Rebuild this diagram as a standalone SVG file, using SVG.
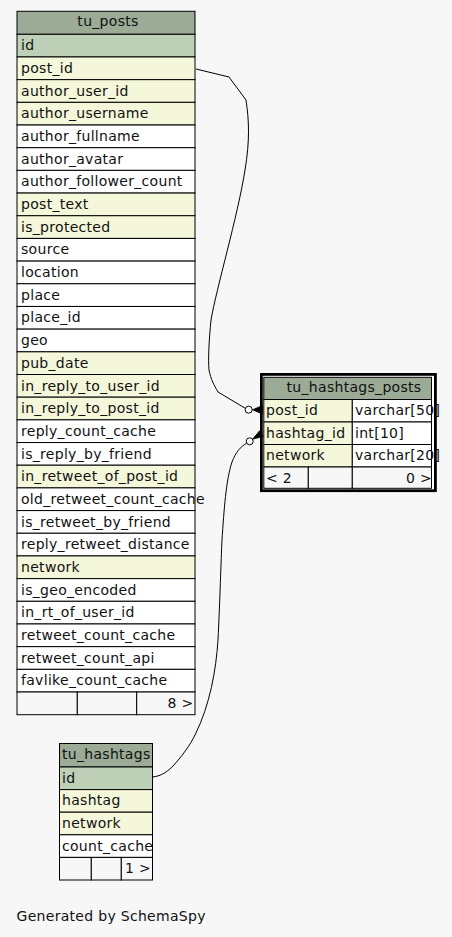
<svg xmlns="http://www.w3.org/2000/svg" width="452" height="937" viewBox="0 0 452 937">
  <style>
    .hdr { fill: #9bab96; stroke: #000; stroke-width: 1; }
    .pk { fill: #bed1b8; stroke: #000; stroke-width: 1; }
    .idx { fill: #f4f7da; stroke: #000; stroke-width: 1; }
    .plain { fill: #ffffff; stroke: #000; stroke-width: 1; }
    .foot { fill: #f7f7f7; stroke: #000; stroke-width: 1; }
    text { font-family: "DejaVu Sans", "Liberation Sans", sans-serif; font-size: 14px; letter-spacing: 0.3px; fill: #111; }
    .mid { text-anchor: middle; }
    .end { text-anchor: end; }
    .edge { fill: none; stroke: #000; stroke-width: 1; }
    .odot { fill: #ffffff; stroke: #000; stroke-width: 1; }
    .crow { fill: #000; stroke: #000; stroke-width: 0.8; }
  </style>

  <rect x="0" y="0" width="452" height="937" fill="#f7f7f7"/>

  <!-- tu_posts -->
  <g id="tu_posts">
    <rect class="hdr" x="17" y="11.3" width="178" height="23"/>
    <text class="mid" x="108" y="26.3">tu_posts</text>

    <rect class="pk" x="17" y="34.30" width="178" height="22.68"/><text x="21" y="50.30">id</text>
    <rect class="idx" x="17" y="56.98" width="178" height="22.68"/><text x="21" y="72.98">post_id</text>
    <rect class="idx" x="17" y="79.66" width="178" height="22.68"/><text x="21" y="95.66">author_user_id</text>
    <rect class="idx" x="17" y="102.34" width="178" height="22.68"/><text x="21" y="118.34">author_username</text>
    <rect class="plain" x="17" y="125.02" width="178" height="22.68"/><text x="21" y="141.02">author_fullname</text>
    <rect class="plain" x="17" y="147.70" width="178" height="22.68"/><text x="21" y="163.70">author_avatar</text>
    <rect class="plain" x="17" y="170.38" width="178" height="22.68"/><text x="21" y="186.38">author_follower_count</text>
    <rect class="idx" x="17" y="193.06" width="178" height="22.68"/><text x="21" y="209.06">post_text</text>
    <rect class="idx" x="17" y="215.74" width="178" height="22.68"/><text x="21" y="231.74">is_protected</text>
    <rect class="plain" x="17" y="238.42" width="178" height="22.68"/><text x="21" y="254.42">source</text>
    <rect class="plain" x="17" y="261.10" width="178" height="22.68"/><text x="21" y="277.10">location</text>
    <rect class="plain" x="17" y="283.78" width="178" height="22.68"/><text x="21" y="299.78">place</text>
    <rect class="plain" x="17" y="306.46" width="178" height="22.68"/><text x="21" y="322.46">place_id</text>
    <rect class="plain" x="17" y="329.14" width="178" height="22.68"/><text x="21" y="345.14">geo</text>
    <rect class="idx" x="17" y="351.82" width="178" height="22.68"/><text x="21" y="367.82">pub_date</text>
    <rect class="idx" x="17" y="374.50" width="178" height="22.68"/><text x="21" y="390.50">in_reply_to_user_id</text>
    <rect class="idx" x="17" y="397.18" width="178" height="22.68"/><text x="21" y="413.18">in_reply_to_post_id</text>
    <rect class="plain" x="17" y="419.86" width="178" height="22.68"/><text x="21" y="435.86">reply_count_cache</text>
    <rect class="plain" x="17" y="442.54" width="178" height="22.68"/><text x="21" y="458.54">is_reply_by_friend</text>
    <rect class="idx" x="17" y="465.22" width="178" height="22.68"/><text x="21" y="481.22">in_retweet_of_post_id</text>
    <rect class="plain" x="17" y="487.90" width="178" height="22.68"/><text x="21" y="503.90">old_retweet_count_cache</text>
    <rect class="plain" x="17" y="510.58" width="178" height="22.68"/><text x="21" y="526.58">is_retweet_by_friend</text>
    <rect class="plain" x="17" y="533.26" width="178" height="22.68"/><text x="21" y="549.26">reply_retweet_distance</text>
    <rect class="idx" x="17" y="555.94" width="178" height="22.68"/><text x="21" y="571.94">network</text>
    <rect class="plain" x="17" y="578.62" width="178" height="22.68"/><text x="21" y="594.62">is_geo_encoded</text>
    <rect class="plain" x="17" y="601.30" width="178" height="22.68"/><text x="21" y="617.30">in_rt_of_user_id</text>
    <rect class="plain" x="17" y="623.98" width="178" height="22.68"/><text x="21" y="639.98">retweet_count_cache</text>
    <rect class="plain" x="17" y="646.66" width="178" height="22.68"/><text x="21" y="662.66">retweet_count_api</text>
    <rect class="plain" x="17" y="669.34" width="178" height="22.68"/><text x="21" y="685.34">favlike_count_cache</text>

    <rect class="foot" x="17" y="692.02" width="60.3" height="22.68"/>
    <rect class="foot" x="77.3" y="692.02" width="59.4" height="22.68"/>
    <rect class="foot" x="136.7" y="692.02" width="58.3" height="22.68"/>
    <text class="end" x="193.5" y="708.02">8 &gt;</text>
  </g>

  <!-- tu_hashtags_posts (focused table, double frame) -->
  <g id="tu_hashtags_posts">
    <rect x="261.3" y="374.3" width="174" height="116.5" fill="#ffffff" stroke="#000" stroke-width="2.5"/>
    <rect class="hdr" x="263.8" y="377.3" width="167.7" height="22.2"/>
    <text class="mid" x="354" y="392">tu_hashtags_posts</text>

    <rect class="idx" x="263.8" y="399.5" width="88.5" height="22.5"/>
    <rect class="plain" x="352.3" y="399.5" width="79.2" height="22.5"/>
    <text x="266" y="415">post_id</text>
    <text x="355" y="415">varchar[50]</text>

    <rect class="idx" x="263.8" y="422" width="88.5" height="22.5"/>
    <rect class="plain" x="352.3" y="422" width="79.2" height="22.5"/>
    <text x="266" y="437.5">hashtag_id</text>
    <text x="355" y="437.5">int[10]</text>

    <rect class="idx" x="263.8" y="444.5" width="88.5" height="22.5"/>
    <rect class="plain" x="352.3" y="444.5" width="79.2" height="22.5"/>
    <text x="266" y="460">network</text>
    <text x="355" y="460">varchar[20]</text>

    <rect class="foot" x="263.8" y="467" width="44.5" height="21.3"/>
    <rect class="foot" x="308.3" y="467" width="44" height="21.3"/>
    <rect class="foot" x="352.3" y="467" width="79.2" height="21.3"/>
    <text x="266" y="482.5">&lt; 2</text>
    <text class="end" x="432" y="482.5">0 &gt;</text>

    <!-- outer frame redrawn over overflowing cell text -->
    <rect x="261.3" y="374.3" width="174" height="116.5" fill="none" stroke="#000" stroke-width="2.5"/>
  </g>

  <!-- tu_hashtags -->
  <g id="tu_hashtags">
    <rect class="hdr" x="59.5" y="743.5" width="93" height="23.5"/>
    <text x="62" y="759">tu_hashtags</text>
    <rect class="pk" x="59.5" y="767" width="93" height="22.6"/><text x="62" y="782.8">id</text>
    <rect class="idx" x="59.5" y="789.6" width="93" height="22.6"/><text x="62" y="805.4">hashtag</text>
    <rect class="idx" x="59.5" y="812.2" width="93" height="22.6"/><text x="62" y="828">network</text>
    <rect class="plain" x="59.5" y="834.8" width="93" height="22.6"/><text x="62" y="850.6">count_cache</text>
    <rect class="foot" x="59.5" y="857.4" width="31.8" height="22.6"/>
    <rect class="foot" x="91.3" y="857.4" width="30" height="22.6"/>
    <rect class="foot" x="121.3" y="857.4" width="31.2" height="22.6"/>
    <text class="end" x="151" y="873.2">1 &gt;</text>
  </g>

  <!-- relationships -->
  <g id="connectors">
    <path class="edge" d="M196,69 L229,77 L246,100 C249,120 250,140 245,170 C238,215 216,290 211,320 C209,340 208,360 209,370 C211,380 214,385 218,392 L245.3,408.3"/>
    <circle class="odot" cx="248.7" cy="409.7" r="3.5"/>
    <polygon class="crow" points="252.6,409.8 262.3,405.6 262.3,414"/>

    <path class="edge" d="M152.5,777 C162,776 168,771 173,766 C183,755 190,745 195,735 C210,705 216,670 218,640 C220,600 221,560 222,540 C224,510 226,480 232,462 C236,452 240,447 246.8,443.2"/>
    <circle class="odot" cx="249.7" cy="441.3" r="3.5"/>
    <polygon class="crow" points="252.6,439.2 259.6,430.8 263.3,436.4"/>
  </g>

  <text x="16.5" y="920.5" letter-spacing="0.2">Generated by SchemaSpy</text>
</svg>
